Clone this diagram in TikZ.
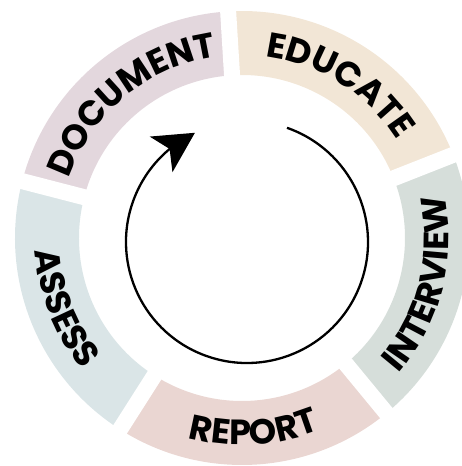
\documentclass[tikz,border=0pt]{standalone}
\usepackage{fontspec}
\usetikzlibrary{arrows.meta,bending,decorations.text}
\newfontfamily\lblfont{Poppins}
\newcommand\lbl{\lblfont\bfseries\fontsize{35}{35}\selectfont}
\definecolor{educate}{RGB}{242,230,214}
\definecolor{document}{RGB}{227,215,221}
\definecolor{assess}{RGB}{218,229,231}
\definecolor{report}{RGB}{234,214,210}
\definecolor{interview}{RGB}{214,222,218}
\tikzset{
  ringlabel/.style={decorate, decoration={text along path, text={|\lbl|#1}, text align=center}},
  cyclearrow/.style={line width=2.3pt, -{Stealth[length=40pt,width=42pt,inset=10pt,flex]}}
}
\begin{document}
\begin{tikzpicture}[x=1pt,y=1pt]
\useasboundingbox (-242,-228) rectangle (220,238);
\clip (-242,-228) rectangle (220,238);
\coordinate (O) at (0,0);
\coordinate (C) at (5,-4);
% ring segments
\foreach \a/\col in {21.5/educate, 93.5/document, 165.5/assess, 237.5/report, 309.5/interview} {
  \fill[\col] (\a:163) arc[start angle=\a, end angle=\a+72, radius=163]
     -- (\a+72:227) arc[start angle=\a+72, end angle=\a, radius=227] -- cycle;
}
% gaps
\foreach \a in {21.5,93.5,165.5,237.5,309.5}
  \draw[white, line width=16pt] (\a:150) -- (\a:245);
% labels (clockwise, tops outward)
\path[ringlabel=DOCUMENT] (169.5:183) arc[start angle=169.5, end angle=89.5, radius=183];
\path[ringlabel=EDUCATE] (97.5:183) arc[start angle=97.5, end angle=17.5, radius=183];
% labels (counterclockwise, tops inward)
\path[ringlabel=ASSESS] (161.5:207) arc[start angle=161.5, end angle=241.5, radius=207];
\path[ringlabel=REPORT] (233.5:207) arc[start angle=233.5, end angle=313.5, radius=207];
\path[ringlabel=INTERVIEW] (305.5:207) arc[start angle=305.5, end angle=385.5, radius=207];
% cycle arrow
\draw[cyclearrow] (C) ++(70.7:121) arc[start angle=70.7, end angle=-244.5, radius=121];
\end{tikzpicture}
\end{document}
